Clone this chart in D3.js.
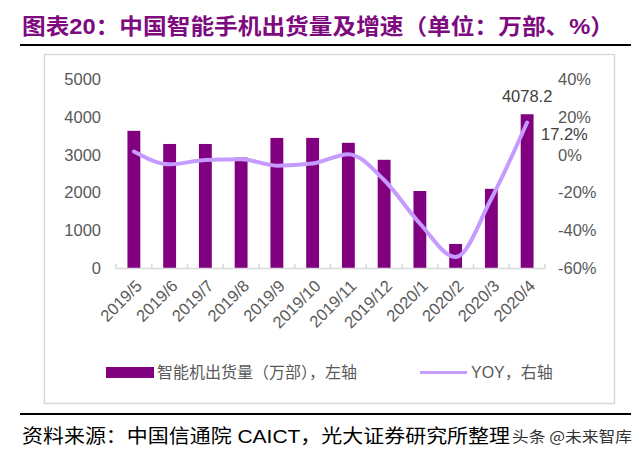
<!DOCTYPE html>
<html><head><meta charset="utf-8">
<script src="https://cdn.jsdelivr.net/npm/d3@7"></script>
<style>body{margin:0;background:#fff}svg{display:block}</style>
</head><body>
<script>
const categories = ["2019/5","2019/6","2019/7","2019/8","2019/9","2019/10","2019/11","2019/12","2020/1","2020/2","2020/3","2020/4"];
const shipments = [3638,3290,3290,2930,3450,3450,3320,2870,2042,638,2100,4078.2];
const yoy = [1.8,-5.0,-2.7,-2.3,-5.7,-4.6,0.4,-13.3,-36.4,-54.2,-23.1,17.2];
const leftTicks = [0,1000,2000,3000,4000,5000];
const rightTicks = [-60,-40,-20,0,20,40];

const W=640,H=456;
const svg=d3.select("body").append("svg").attr("width",W).attr("height",H);
const gray="#595959";
const fontLat="'Liberation Sans', Arial, sans-serif";
const fontCJK="'Liberation Sans','Noto Sans CJK SC',sans-serif";

// title
svg.append("text").attr("x",22).attr("y",34)
  .attr("font-family","'Liberation Sans','Noto Sans CJK SC',sans-serif")
  .attr("font-weight","bold").attr("font-size",22).attr("fill","#7e0a80")
  .attr("textLength",592).attr("lengthAdjust","spacingAndGlyphs")
  .text("图表20：中国智能手机出货量及增速（单位：万部、%）");
svg.append("line").attr("x1",20).attr("x2",631).attr("y1",45).attr("y2",45).attr("stroke","#000").attr("stroke-width",2);

// chart box
svg.append("rect").attr("x",44.5).attr("y",54.5).attr("width",570).attr("height",349)
  .attr("fill","none").attr("stroke","#d9d9d9").attr("stroke-width",1.5);

const x=d3.scaleBand().domain(categories).range([116,545]).paddingInner(0.64).paddingOuter(0.32);
const yL=d3.scaleLinear().domain([0,5000]).range([268,79.5]);
const yR=d3.scaleLinear().domain([-60,40]).range([268,79.5]);

// left axis labels
svg.append("g").selectAll("text").data(leftTicks).join("text")
  .attr("x",101).attr("y",d=>yL(d)).attr("dy","0.35em").attr("text-anchor","end")
  .attr("font-family",fontLat).attr("font-size",16.5).attr("fill",gray).text(d=>d);
// right axis labels
svg.append("g").selectAll("text").data(rightTicks).join("text")
  .attr("x",558).attr("y",d=>yR(d)).attr("dy","0.35em").attr("text-anchor","start")
  .attr("font-family",fontLat).attr("font-size",16.5).attr("fill",gray).text(d=>d+"%");

// bars
svg.append("g").selectAll("rect").data(shipments).join("rect")
  .attr("x",(d,i)=>x(categories[i])).attr("width",x.bandwidth())
  .attr("y",d=>yL(d)).attr("height",d=>yL(0)-yL(d)).attr("fill","#800080");

// x axis line and ticks
const step=x.step();
const xa=svg.append("g").attr("stroke","#d9d9d9").attr("stroke-width",1.5);
xa.append("line").attr("x1",116).attr("x2",545).attr("y1",268.5).attr("y2",268.5);
const bounds=d3.range(categories.length+1).map(i=>116+i*step);
xa.selectAll("line.t").data(bounds).join("line").attr("class","t")
  .attr("x1",d=>d).attr("x2",d=>d).attr("y1",268.5).attr("y2",264);

// line
const line=d3.line().x((d,i)=>x(categories[i])+x.bandwidth()/2).y(d=>yR(d)).curve(d3.curveMonotoneX);
svg.append("path").datum(yoy).attr("d",line).attr("fill","none")
  .attr("stroke","#c59bff").attr("stroke-width",4).attr("stroke-linejoin","round").attr("stroke-linecap","round");

// data labels
const last=categories.length-1;
svg.append("text").attr("x",x(categories[last])+x.bandwidth()/2).attr("y",yL(shipments[last])-18)
  .attr("dy","0.35em").attr("text-anchor","middle").attr("font-family",fontLat).attr("font-size",16.5).attr("fill","#404040")
  .text(shipments[last].toFixed(1));
svg.append("text").attr("x",541).attr("y",134).attr("dy","0.35em")
  .attr("font-family",fontLat).attr("font-size",16.5).attr("fill","#404040").text(yoy[last].toFixed(1)+"%");

// x labels
svg.append("g").selectAll("text").data(categories).join("text")
  .attr("transform",d=>`translate(${x(d)+x.bandwidth()/2+5},283) rotate(-45)`)
  .attr("text-anchor","end").attr("dy","0.35em")
  .attr("font-family",fontLat).attr("font-size",16.5).attr("fill",gray).text(d=>d);

// legend
svg.append("rect").attr("x",106).attr("y",367).attr("width",48).attr("height",11).attr("fill","#800080");
svg.append("text").attr("x",157).attr("y",372.5).attr("dy","0.35em").attr("font-family",fontCJK)
  .attr("font-size",16).attr("fill",gray).text("智能机出货量（万部），左轴");
svg.append("line").attr("x1",420).attr("x2",467).attr("y1",372.5).attr("y2",372.5).attr("stroke","#c59bff").attr("stroke-width",3);
svg.append("text").attr("x",471).attr("y",372.5).attr("dy","0.35em").attr("font-family",fontCJK)
  .attr("font-size",16).attr("fill",gray).text("YOY，右轴");

// footer
svg.append("line").attr("x1",20).attr("x2",631).attr("y1",414).attr("y2",414).attr("stroke","#000").attr("stroke-width",2);
svg.append("text").attr("x",22).attr("y",436).attr("dy","0.35em").attr("font-family",fontCJK)
  .attr("font-size",19).attr("fill","#000").attr("textLength",488).attr("lengthAdjust","spacingAndGlyphs")
  .text("资料来源：中国信通院 CAICT，光大证券研究所整理");
svg.append("text").attr("x",512).attr("y",437).attr("dy","0.35em").attr("font-family","'Noto Sans CJK SC',sans-serif")
  .attr("font-size",15).attr("fill","#333").attr("textLength",120).attr("lengthAdjust","spacingAndGlyphs").text("头条 @未来智库");
</script>
</body></html>
